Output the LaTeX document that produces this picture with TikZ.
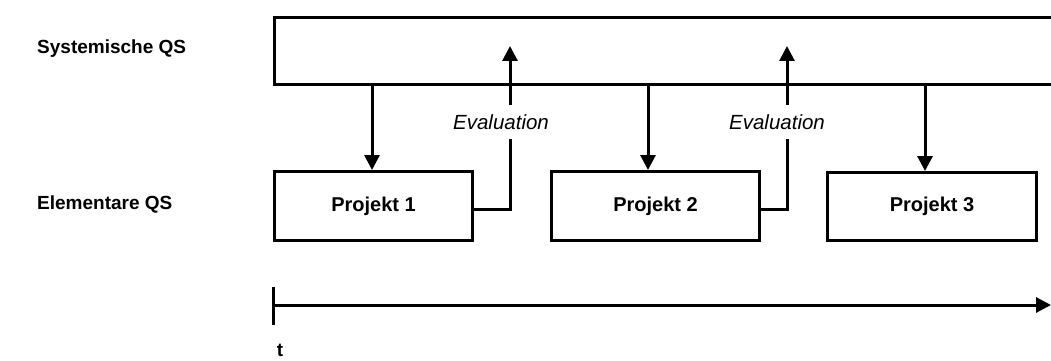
\documentclass[tikz,border=0pt]{standalone}
\usepackage{fontspec}
\setmainfont{Liberation Sans}
\usetikzlibrary{arrows.meta}
\tikzset{
  box/.style={draw, line width=3pt, rectangle, inner sep=0pt, font=\fontsize{20}{24}\selectfont\bfseries},
  conn/.style={line width=3pt},
  arr/.style={line width=3pt, -{Triangle[width=15pt,length=15pt]}},
  lbl/.style={font=\fontsize{19}{23}\selectfont\bfseries, inner sep=0pt},
  evl/.style={font=\fontsize{20.5}{24}\selectfont\itshape, fill=white, inner xsep=2pt, inner ysep=9pt}
}
\begin{document}
\begin{tikzpicture}[x=1pt,y=-1pt]
\useasboundingbox (0,0) rectangle (1051,361);
\clip (0,0) rectangle (1051,361);
% top box (extends past the right edge)
\node[box, anchor=north west, minimum width=800pt, minimum height=67pt] (top) at (273,16) {};
% project boxes
\node[box, anchor=north west, minimum width=198pt, minimum height=69pt] (p1) at (273,170) {Projekt 1};
\node[box, anchor=north west, minimum width=208pt, minimum height=69pt] (p2) at (550,170) {Projekt 2};
\node[box, anchor=north west, minimum width=209pt, minimum height=68pt] (p3) at (826,171) {Projekt 3};
% row labels
\node[lbl, anchor=west] (sys) at (37,49) {Systemische QS};
\node[lbl, anchor=west] (ele) at (37,204) {Elementare QS};
% down arrows
\coordinate (d1) at (372,83);
\coordinate (d2) at (648,83);
\coordinate (d3) at (925,83);
\draw[arr] (d1) -- (d1 |- p1.north);
\draw[arr] (d2) -- (d2 |- p2.north);
\draw[arr] (d3) -- (d3 |- p3.north);
% evaluation arrows
\coordinate (e1) at (510,46);
\coordinate (e2) at (787,46);
\draw[arr] (p1.east |- 0,209) -| (e1);
\draw[arr] (p2.east |- 0,209) -| (e2);
\node[evl] (ev1) at (501,122) {Evaluation};
\node[evl] (ev2) at (777,122) {Evaluation};
% time axis
\coordinate (t0) at (273,305);
\coordinate (t1) at (1051,305);
\coordinate (ta) at (273,287);
\coordinate (tb) at (273,325);
\draw[arr] (t0) -- (t1);
\draw[conn] (ta) -- (tb);
\node[lbl] (t) at (280,350) {t};
\end{tikzpicture}
\end{document}
